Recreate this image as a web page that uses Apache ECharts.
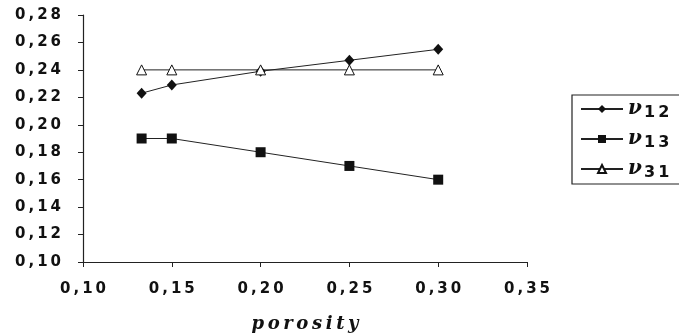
<!DOCTYPE html>
<html>
<head>
<meta charset="utf-8">
<script src="https://cdn.jsdelivr.net/npm/echarts@6/dist/echarts.min.js"></script>
<style>
  html, body { margin: 0; padding: 0; background: #fff; }
  #main { width: 679px; height: 335px; }
</style>
</head>
<body>
<div id="main"></div>
<script>
  // porosity values (x)
  const porosity = [0.133, 0.15, 0.2, 0.25, 0.3];
  // Poisson ratios
  const nu12 = [0.223, 0.229, 0.239, 0.247, 0.255];
  const nu13 = [0.19, 0.19, 0.18, 0.17, 0.16];
  const nu31 = [0.24, 0.24, 0.24, 0.24, 0.24];
  const seriesNames = ["ν12", "ν13", "ν31"];

  const pair = (ys) => porosity.map((x, i) => [x, ys[i]]);
  const spread = (s) => s.split("").join("\u2009");
  // "0,28" style labels, spread out like the original
  const fmt = (v) => spread(v.toFixed(2).replace(".", ","));

  const tickFont = { color: "#111", fontFamily: "DejaVu Sans", fontWeight: "bold", fontSize: 15 };
  const axisLine = { show: true, lineStyle: { color: "#222", width: 1.2 } };

  let myChart = echarts.init(document.getElementById("main"));
  let option = {
    animation: false,
    grid: { left: 83, right: 152, top: 15, bottom: 73, outerBoundsMode: "none", containLabel: false },
    legend: {
      orient: "vertical",
      left: 572,
      top: 95,
      itemWidth: 42,
      itemHeight: 10,
      itemGap: 8,
      padding: [4, 20, 3, 8],
      borderColor: "#222",
      borderWidth: 1.2,
      data: seriesNames,
      formatter: (name) => "{v|ν}{s|" + spread(name.slice(1)) + "}",
      textStyle: {
        rich: {
          v: { fontFamily: "DejaVu Serif", fontWeight: "bold", fontStyle: "italic", fontSize: 20, color: "#111" },
          s: { fontFamily: "DejaVu Sans", fontWeight: "bold", fontSize: 16, color: "#111", padding: [8, 0, 0, 2] },
        },
      },
    },
    xAxis: {
      type: "value",
      min: 0.1,
      max: 0.35,
      interval: 0.05,
      name: spread("porosity"),
      nameLocation: "middle",
      nameGap: 53,
      nameTextStyle: { fontFamily: "DejaVu Serif", fontWeight: "bold", fontStyle: "italic", fontSize: 18, color: "#111" },
      axisLine: axisLine,
      axisTick: { show: true, length: 5, lineStyle: { color: "#222" } },
      splitLine: { show: false },
      axisLabel: { ...tickFont, margin: 20, formatter: fmt },
    },
    yAxis: {
      type: "value",
      min: 0.1,
      max: 0.28,
      interval: 0.02,
      axisLine: axisLine,
      axisTick: { show: true, length: 5, lineStyle: { color: "#222" } },
      splitLine: { show: false },
      axisLabel: { ...tickFont, margin: 22, formatter: fmt },
    },
    series: [
      {
        name: seriesNames[0],
        type: "line",
        data: pair(nu12),
        symbol: "diamond",
        symbolSize: [10, 11],
        color: "#111",
        lineStyle: { color: "#222", width: 1 },
        itemStyle: { color: "#111" },
      },
      {
        name: seriesNames[1],
        type: "line",
        data: pair(nu13),
        symbol: "rect",
        symbolSize: 10,
        color: "#111",
        lineStyle: { color: "#222", width: 1 },
        itemStyle: { color: "#111" },
      },
      {
        name: seriesNames[2],
        type: "line",
        data: pair(nu31),
        symbol: "triangle",
        symbolSize: 10,
        color: "#111",
        lineStyle: { color: "#222", width: 1 },
        itemStyle: { color: "#fff", borderColor: "#111", borderWidth: 1 },
      },
    ],
  };
  myChart.setOption(option);
</script>
</body>
</html>
